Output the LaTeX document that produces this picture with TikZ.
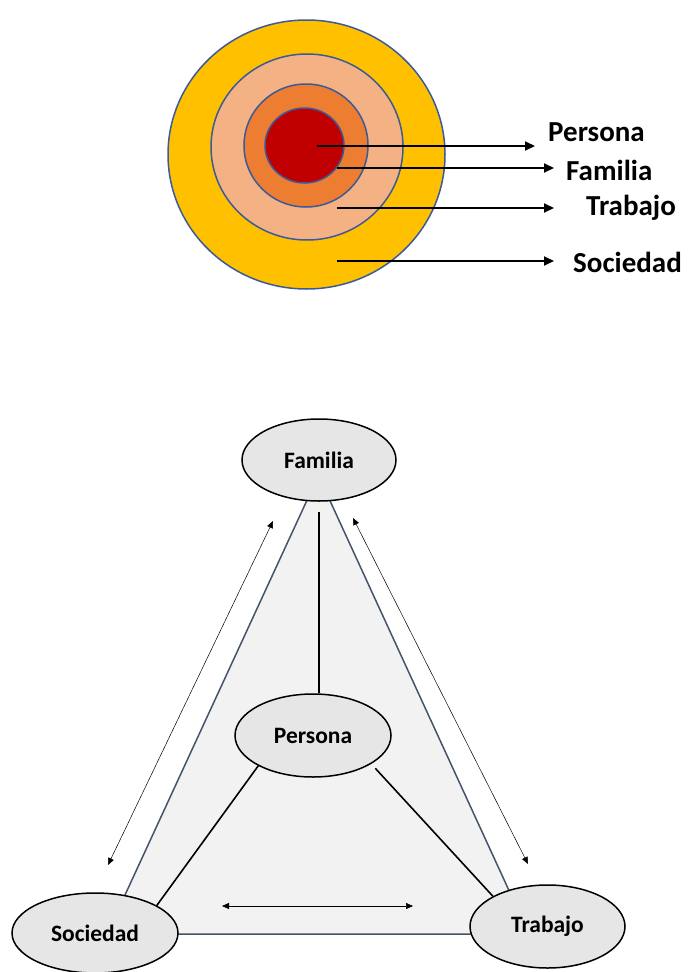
\documentclass[tikz,border=0pt]{standalone}
\usepackage{fontspec}
\setmainfont{Carlito}
\usetikzlibrary{shapes.geometric,arrows.meta}
\definecolor{cgold}{HTML}{FFC000}
\definecolor{csalmon}{HTML}{F4B183}
\definecolor{corange}{HTML}{ED7D31}
\definecolor{cred}{HTML}{C00000}
\definecolor{cring}{HTML}{3A5A9A}
\definecolor{ctri}{HTML}{44546A}
\definecolor{ctrifill}{HTML}{F2F2F2}
\definecolor{cell}{HTML}{E7E6E6}
\tikzset{
  ring/.style={draw=cring, line width=1.5pt},
  toparrow/.style={draw=black, line width=2pt, -{Triangle[length=10pt,width=9pt]}},
  toplabel/.style={anchor=west, inner sep=0pt, font=\fontsize{29}{32}\selectfont\bfseries},
  bubble/.style={ellipse, draw=black, fill=cell, line width=1.5pt, inner sep=0pt,
    font=\fontsize{23.5}{26}\selectfont\bfseries},
  conn/.style={draw=black, line width=1.6pt},
  thinarrow/.style={draw=black, line width=0.5pt, {Triangle[length=7pt,width=6pt]}-{Triangle[length=7pt,width=6pt]}},
}
\begin{document}
\begin{tikzpicture}[x=1pt,y=-1pt]
\useasboundingbox (0,0) rectangle (689,972);
% --- concentric rings ---
\filldraw[ring, fill=cgold] (306.5,154.5) ellipse [x radius=138.5, y radius=134.5];
\filldraw[ring, fill=csalmon] (307,147) ellipse [x radius=96, y radius=93];
\filldraw[ring, fill=corange] (306,145.5) ellipse [x radius=62, y radius=61.5];
\filldraw[ring, fill=cred] (304.5,145.5) ellipse [x radius=39.5, y radius=37.5];
% labels
\node[toplabel] (lPersona) at (548,132) {Persona};
\node[toplabel] (lFamilia) at (566,170) {Familia};
\node[toplabel] (lTrabajo) at (586,208) {Trabajo};
\node[toplabel] (lSociedad) at (573,262) {Sociedad};
% arrows
\coordinate (s1) at (317,146); \coordinate (e1) at (535,146);
\coordinate (s2) at (337,168); \coordinate (e2) at (554,168);
\coordinate (s3) at (337,208); \coordinate (e3) at (554,208);
\coordinate (s4) at (337,261); \coordinate (e4) at (554,261);
\draw[toparrow] (s1) -- (e1);
\draw[toparrow] (s2) -- (e2);
\draw[toparrow] (s3) -- (e3);
\draw[toparrow] (s4) -- (e4);
% --- triangle ---
\coordinate (tA) at (318.4,475.5);
\coordinate (tB) at (107,934);
\coordinate (tC) at (529,934);
\filldraw[draw=ctri, fill=ctrifill, line width=1.5pt, line join=round] (tA) -- (tB) -- (tC) -- cycle;
% --- nodes ---
\node[bubble, minimum width=154pt, minimum height=82pt] (Familia) at (319,460) {Familia};
\node[bubble, minimum width=156pt, minimum height=83pt] (Persona) at (313,735.5) {Persona};
\node[bubble, minimum width=166pt, minimum height=80pt] (Sociedad) at (95,933) {Sociedad};
\node[bubble, minimum width=155pt, minimum height=83pt] (Trabajo) at (547.5,926.5) {Trabajo};
% --- connectors ---
\draw[conn] ([yshift=-10pt]Familia.south) -- (Familia.south |- Persona.north);
\draw[conn] (Persona.209) -- (Sociedad.24);
\draw[conn, shorten <=6pt] (Persona.334.5) -- (Trabajo.151);
% --- thin arrows ---
\coordinate (a1) at (273,521); \coordinate (a2) at (108,865);
\coordinate (b1) at (353,518); \coordinate (b2) at (528,864);
\coordinate (c1) at (222,906); \coordinate (c2) at (413,906);
\draw[thinarrow] (a1) -- (a2);
\draw[thinarrow] (b1) -- (b2);
\draw[thinarrow] (c1) -- (c2);
\end{tikzpicture}
\end{document}
